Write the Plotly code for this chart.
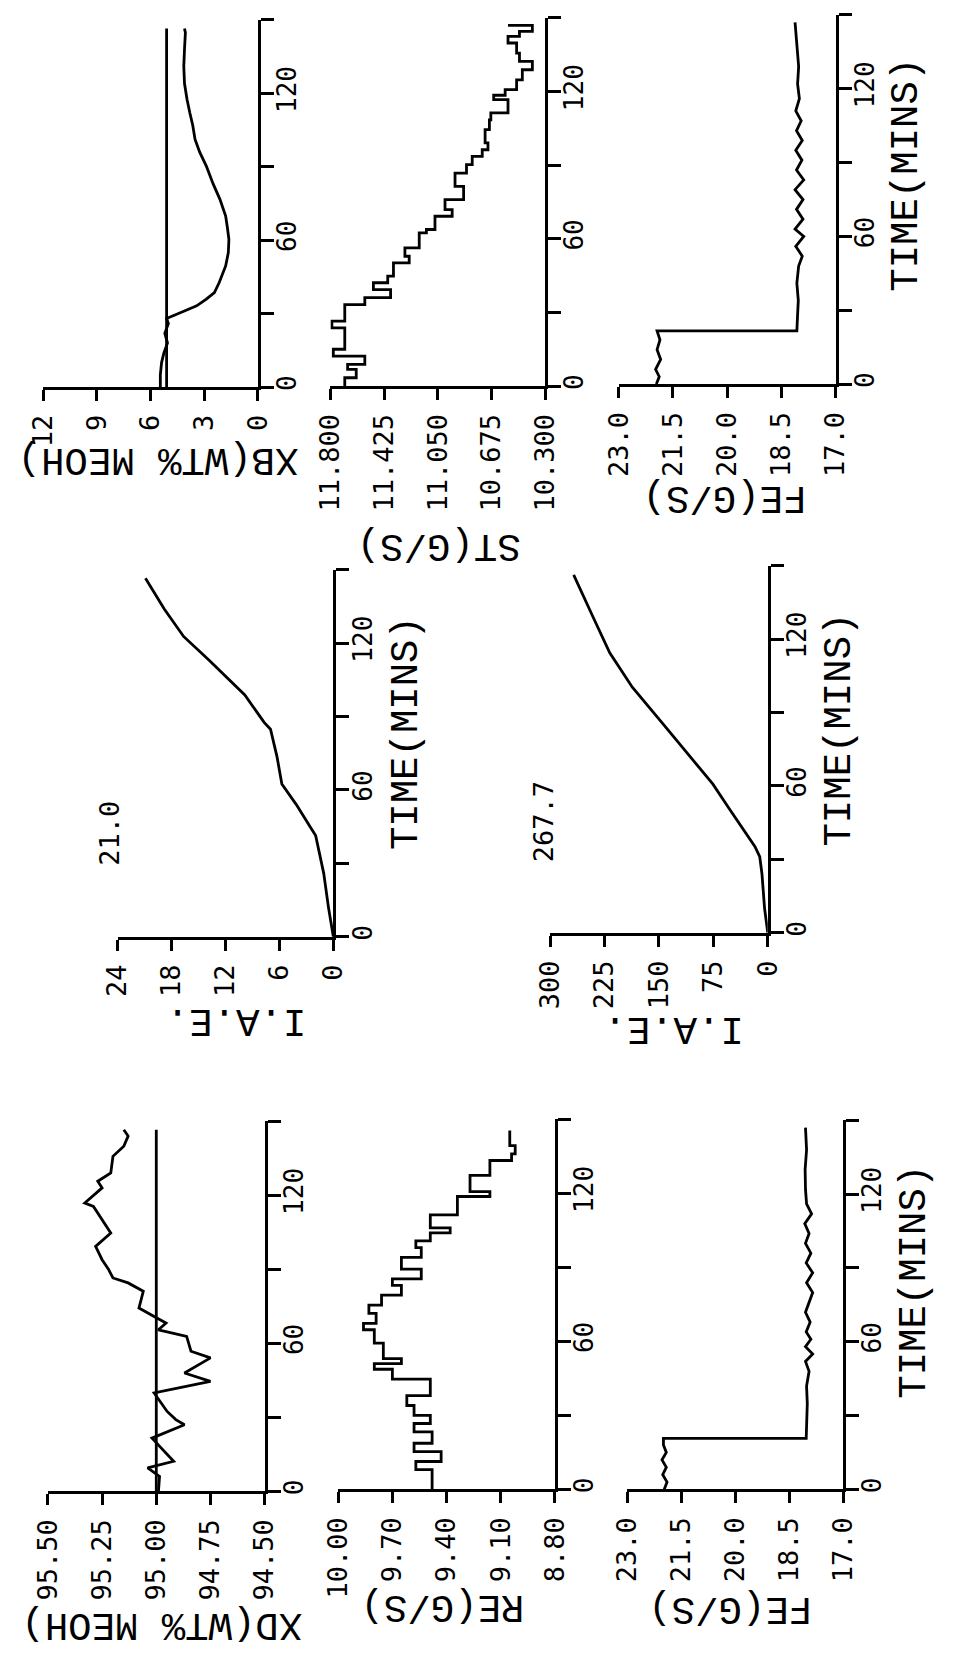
import plotly.graph_objects as go

W, H = 955, 1659

# ---------------- data (time in minutes) ----------------
XB_T = [0, 5, 10, 14, 18, 22, 26, 28, 31, 33.2, 35.9, 38.6, 42.7, 49.5, 55, 60.4, 65, 69.9, 76.7, 83, 90.3, 96, 101.2, 107, 112, 117.6, 124, 131.1, 138, 144.8, 146.5]
XB_V = [5.45, 5.45, 5.38, 5.25, 5.05, 5.2, 5.0, 5.1, 4.14, 3.42, 2.88, 2.43, 2.16, 1.8, 1.65, 1.62, 1.7, 1.8, 2.12, 2.5, 2.88, 3.25, 3.51, 3.64, 3.8, 3.96, 4.1, 4.14, 4.1, 4.05, 4.1]
XB_SP = 5.1

ST_T = [0, 3.4, 6.8, 8.8, 12.2, 15.0, 23.7, 26.5, 33.2, 36.0, 39.3, 42.1, 44.8, 50.2, 52.9, 56.3, 62.4, 63.8, 69.2, 71.9, 76.0, 81.4, 86.8, 90.2, 93.6, 96.3, 99.1, 104.5, 108.5, 111.3, 116.7, 118.5, 120.8, 124.8, 128.9, 132.3, 135.7, 139.8, 142.5, 144.5, 147.0]
ST_V = [11.70, 11.62, 11.68, 11.56, 11.78, 11.70, 11.79, 11.70, 11.56, 11.38, 11.50, 11.40, 11.36, 11.25, 11.28, 11.18, 11.13, 11.07, 10.95, 11.00, 10.87, 10.93, 10.85, 10.81, 10.74, 10.70, 10.72, 10.69, 10.68, 10.56, 10.66, 10.58, 10.50, 10.46, 10.39, 10.48, 10.50, 10.56, 10.48, 10.39, 10.56]

FE1_T = [0, 3, 6, 10, 14, 18, 21.6, 21.6, 28, 34, 41, 48, 52, 56, 60, 63, 67, 71, 75, 79, 83, 87, 91, 95, 99, 103, 107, 111, 116, 122, 129, 136, 143, 147]
FE1_V = [21.96, 21.88, 21.98, 21.84, 21.94, 21.86, 21.94, 18.07, 18.05, 18.03, 18.07, 18.02, 17.92, 18.10, 17.88, 18.12, 17.90, 18.08, 17.90, 18.12, 17.88, 18.08, 17.93, 18.10, 17.92, 18.08, 17.95, 18.10, 18.00, 18.05, 18.02, 18.06, 18.10, 18.12]

IAE1_T = [0, 11.9, 25.9, 41.4, 45.6, 54.0, 62.4, 73.6, 84.8, 87.6, 98.8, 112.9, 122.7, 133.9, 146.5]
IAE1_V = [0, 0.54, 1.07, 1.97, 2.69, 4.12, 5.73, 6.27, 6.99, 7.70, 9.85, 13.79, 16.66, 18.81, 20.9]
IAE1_TOTAL = "21.0"

IAE2_T = [0, 9.9, 24.0, 31.1, 35.3, 41.0, 50.8, 60.7, 72.0, 86.2, 100.3, 114.4, 128.5, 146.2]
IAE2_V = [0, 4.4, 8.0, 11.1, 17.8, 31.1, 53.3, 75.6, 106.7, 146.7, 186.7, 217.8, 240.0, 267.5]
IAE2_TOTAL = "267.7"

XD_T = [0, 6.1, 9.5, 12.2, 21.6, 27.0, 29.1, 32.4, 39.9, 44.6, 48.0, 54.1, 56.8, 62.8, 65.5, 68.2, 70.9, 74.3, 81.1, 84.5, 86.5, 89.9, 93.9, 99.3, 104.7, 115.5, 116.9, 123.0, 125.7, 129.1, 135.8, 139.9, 144.0, 146.6]
XD_V = [94.99, 94.985, 95.04, 94.92, 95.02, 94.87, 94.91, 94.95, 95.01, 94.75, 94.87, 94.75, 94.84, 94.86, 94.99, 94.955, 95.01, 95.08, 95.06, 95.13, 95.20, 95.22, 95.25, 95.28, 95.21, 95.29, 95.33, 95.25, 95.27, 95.21, 95.20, 95.15, 95.13, 95.15]
XD_SP = 95.00

RE_T = [0, 8, 11.3, 15.3, 18.7, 23.3, 26.7, 30, 34, 38, 44.7, 48.7, 51, 53, 59.3, 64.7, 67.3, 71.3, 74.7, 78.7, 82.7, 85.3, 89.3, 94, 98, 100.7, 104, 106, 111.3, 118.7, 120.7, 127.3, 133.3, 136, 139.3, 145.5]
RE_V = [9.48, 9.57, 9.43, 9.58, 9.48, 9.58, 9.49, 9.58, 9.62, 9.49, 9.70, 9.80, 9.65, 9.75, 9.80, 9.86, 9.79, 9.83, 9.76, 9.65, 9.70, 9.54, 9.65, 9.54, 9.57, 9.49, 9.38, 9.49, 9.34, 9.16, 9.27, 9.16, 9.04, 9.02, 9.05, 9.05]

FE2_T = [0, 3, 6, 9, 12, 15, 18, 20.7, 20.7, 28, 35, 42, 48, 52, 55, 58, 61, 64, 68, 72, 76, 80, 84, 88, 92, 96, 100, 104, 108, 112, 116, 122, 130, 138, 147]
FE2_V = [21.98, 21.90, 22.02, 21.92, 22.04, 21.92, 22.0, 22.0, 18.03, 18.02, 18.00, 18.02, 17.95, 18.05, 17.85, 18.05, 17.90, 18.03, 17.92, 18.05, 17.95, 17.85, 18.02, 17.85, 18.03, 17.90, 18.05, 17.95, 18.07, 17.88, 18.02, 18.05, 18.06, 18.02, 18.05]

TIME_TICKS = [0, 30, 60, 90, 120, 150]
TIME_TEXT = ["0", "", "60", "", "120", ""]

XB_TICKS = [12, 9, 6, 3, 0];                    XB_TEXT = ["12", "9", "6", "3", "0"]
ST_TICKS = [11.8, 11.425, 11.05, 10.675, 10.3]; ST_TEXT = ["11.800", "11.425", "11.050", "10.675", "10.300"]
FE_TICKS = [23.0, 21.5, 20.0, 18.5, 17.0];      FE_TEXT = ["23.0", "21.5", "20.0", "18.5", "17.0"]
IAE1_TICKS = [24, 18, 12, 6, 0];                IAE1_TEXT = ["24", "18", "12", "6", "0"]
IAE2_TICKS = [300, 225, 150, 75, 0];            IAE2_TEXT = ["300", "225", "150", "75", "0"]
XD_TICKS = [95.5, 95.25, 95.0, 94.75, 94.5];    XD_TEXT = ["95.50", "95.25", "95.00", "94.75", "94.50"]
RE_TICKS = [10.0, 9.7, 9.4, 9.1, 8.8];          RE_TEXT = ["10.00", "9.70", "9.40", "9.10", "8.80"]

# ---------------- layout of the (rotated) page ----------------
TICK_FONT = "DejaVu Sans Mono"
TITLE_FONT = "Liberation Mono"
VTICK_SIZE = 27
TTICK_SIZE = 26
TITLE_SIZE = 39
LW = 2.8

panels = [
    # (t, v, shape, range, tickvals, ticktext, box px (x0, x1, ytop, ybot), setpoint)
    (XB_T, XB_V, "linear", [12, 0], XB_TICKS, XB_TEXT, (28, 250, 20, 388), XB_SP),
    (ST_T, ST_V, "vh", [11.8, 10.3], ST_TICKS, ST_TEXT, (325, 547, 18, 387), None),
    (FE1_T, FE1_V, "linear", [23, 17], FE_TICKS, FE_TEXT, (623, 847, 15, 385), None),
    (IAE1_T, IAE1_V, "linear", [24, 0], IAE1_TICKS, IAE1_TEXT, (105, 328, 571, 939), None),
    (IAE2_T, IAE2_V, "linear", [300, 0], IAE2_TICKS, IAE2_TEXT, (552, 777, 567, 935), None),
    (XD_T, XD_V, "linear", [95.5, 94.5], XD_TICKS, XD_TEXT, (33, 257, 1124, 1495), XD_SP),
    (RE_T, RE_V, "vh", [10.0, 8.8], RE_TICKS, RE_TEXT, (333, 557, 1122, 1493), None),
    (FE2_T, FE2_V, "linear", [23, 17], FE_TICKS, FE_TEXT, (632, 855, 1123, 1493), None),
]

fig = go.Figure()
layout = {}
for i, (t, v, shape, rng, tv, tt, box, sp) in enumerate(panels, start=1):
    x0, x1, ytop, ybot = box
    sx = "" if i == 1 else str(i)
    fig.add_trace(go.Scatter(x=v, y=t, mode="lines", line=dict(color="black", width=LW, shape=shape),
                             xaxis="x" + sx, yaxis="y" + sx, showlegend=False, hoverinfo="skip"))
    if sp is not None:
        fig.add_trace(go.Scatter(x=[sp, sp], y=[t[0], t[-1]], mode="lines",
                                 line=dict(color="black", width=LW),
                                 xaxis="x" + sx, yaxis="y" + sx, showlegend=False, hoverinfo="skip"))
    layout["xaxis" + sx] = dict(
        domain=[x0 / W, x1 / W], range=rng, anchor="y" + sx, side="bottom",
        tickmode="array", tickvals=tv, ticktext=tt, tickangle=-90,
        ticks="outside", ticklen=11, tickwidth=3, tickcolor="black",
        showline=True, linewidth=3, linecolor="black", mirror=False,
        showgrid=False, zeroline=False, ticklabelstandoff=3,
        tickfont=dict(family=TICK_FONT, size=VTICK_SIZE, color="black"))
    layout["yaxis" + sx] = dict(
        domain=[1 - ybot / H, 1 - ytop / H], range=[0, 150], anchor="x" + sx, side="right",
        tickmode="array", tickvals=TIME_TICKS, ticktext=TIME_TEXT, tickangle=-90,
        ticks="outside", ticklen=13, tickwidth=3, tickcolor="black",
        showline=True, linewidth=3, linecolor="black", mirror=False,
        showgrid=False, zeroline=False, ticklabelstandoff=-9,
        tickfont=dict(family=TICK_FONT, size=TTICK_SIZE, color="black"))

def ann(text, cx, cy, angle, size, family):
    return dict(text=text, x=cx / W, y=1 - cy / H, xref="paper", yref="paper",
                showarrow=False, textangle=angle, xanchor="center", yanchor="middle",
                font=dict(family=family, size=size, color="black"))

annotations = [
    ann("XB(WT% MEOH)", 147, 460, 180, TITLE_SIZE, TITLE_FONT),
    ann("ST(G/S)", 437, 547, 180, TITLE_SIZE, TITLE_FONT),
    ann("FE(G/S)", 732, 498, 180, TITLE_SIZE, TITLE_FONT),
    ann("TIME(MINS)", 920, 175, -90, TITLE_SIZE, TITLE_FONT),
    ann("I.A.E.", 228, 1023, 180, TITLE_SIZE, TITLE_FONT),
    ann("I.A.E.", 680, 1031, 180, TITLE_SIZE, TITLE_FONT),
    ann("TIME(MINS)", 404, 735, -90, TITLE_SIZE, TITLE_FONT),
    ann("TIME(MINS)", 852, 731, -90, TITLE_SIZE, TITLE_FONT),
    ann(IAE1_TOTAL, 97, 835, -90, VTICK_SIZE, TICK_FONT),
    ann(IAE2_TOTAL, 545, 824, -90, VTICK_SIZE, TICK_FONT),
    ann("XD(WT% MEOH)", 151, 1628, 180, TITLE_SIZE, TITLE_FONT),
    ann("RE(G/S)", 441, 1610, 180, TITLE_SIZE, TITLE_FONT),
    ann("FE(G/S)", 738, 1612, 180, TITLE_SIZE, TITLE_FONT),
    ann("TIME(MINS)", 929, 1285, -90, TITLE_SIZE, TITLE_FONT),
]

fig.update_layout(
    width=W, height=H, autosize=False,
    margin=dict(l=0, r=0, t=0, b=0, pad=0),
    paper_bgcolor="white", plot_bgcolor="white",
    annotations=annotations, showlegend=False,
    **layout)

fig.write_html("out.html")
